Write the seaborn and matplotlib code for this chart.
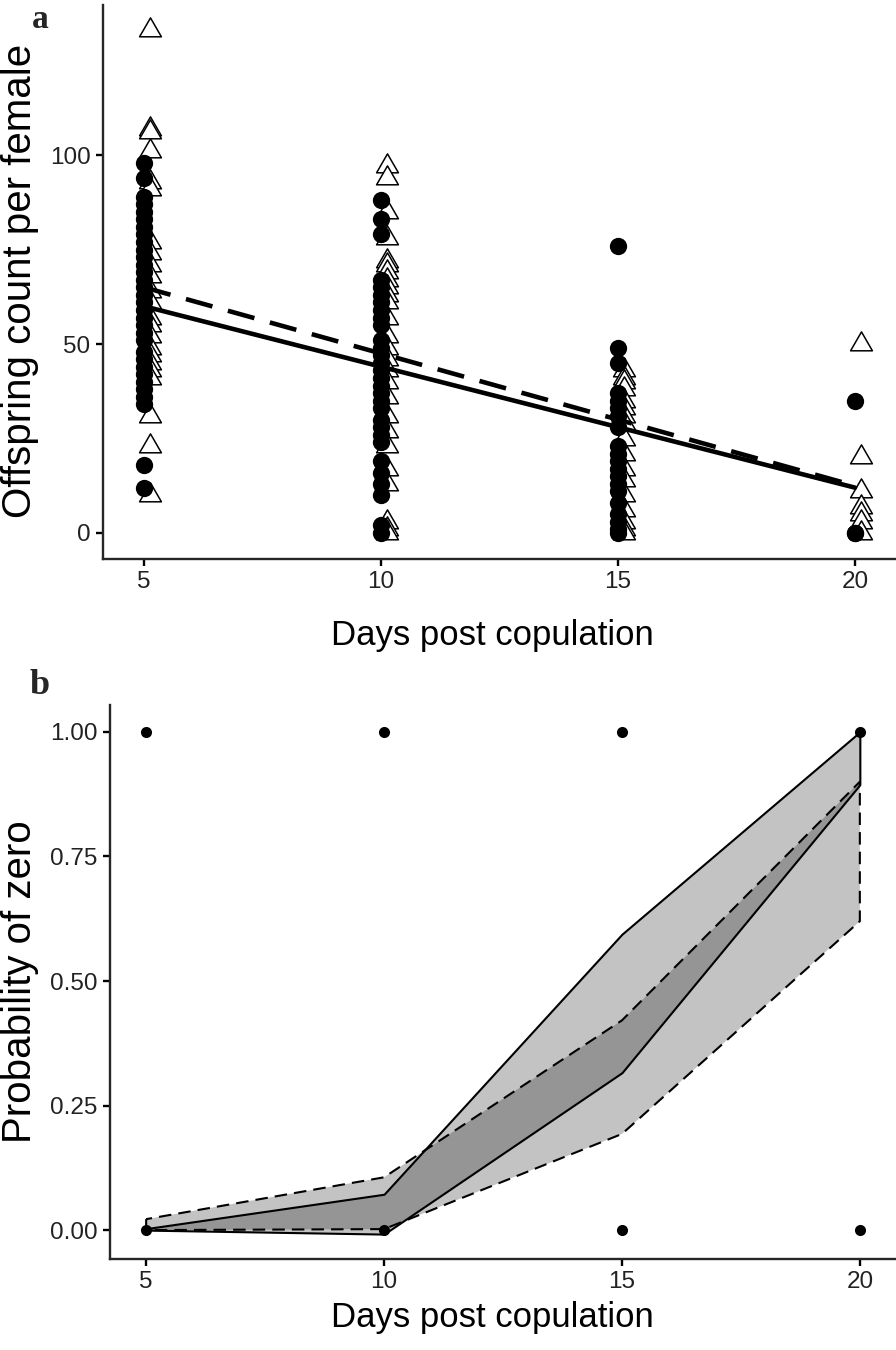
import numpy as np
import pandas as pd
import seaborn as sns
import matplotlib
matplotlib.use("Agg")
import matplotlib.pyplot as plt
from matplotlib.path import Path

# ---------------- Panel a data: offspring count per female ----------------
circle_d5 = [98, 94, 89, 87, 85, 83, 81, 79, 77, 75, 73, 71, 69, 67, 65, 63, 61,
             59, 57, 55, 53, 51, 48, 46, 44, 42, 40, 38, 36, 34, 18, 12]
circle_d10 = [88, 83, 79, 67, 65, 63, 61, 59, 57, 55, 51, 49, 47, 45, 43, 41, 39,
              37, 35, 33, 30, 28, 26, 24, 19, 16, 13, 10, 2, 0]
circle_d15 = [76, 49, 45, 37, 35, 33, 31, 28, 23, 21, 19, 17, 15, 13, 11, 8, 5, 3, 1, 0]
circle_d20 = [35, 0, 0]

tri_d5 = [133, 107, 106, 101, 93, 91, 77, 74, 71, 68, 64, 61, 57, 55, 52, 49, 47,
          45, 43, 41, 31, 23, 10]
tri_d10 = [97, 94, 85, 78, 72, 71, 69, 67, 65, 63, 61, 57, 52, 49, 46, 43, 40, 36,
           31, 27, 23, 17, 13, 3, 1, 0]
tri_d15 = [43, 41, 40, 38, 35, 33, 31, 29, 25, 21, 17, 14, 10, 6, 3, 1, 0]
tri_d20 = [50, 20, 11, 7, 5, 3, 0]

day_levels = [5, 10, 15, 20]

fit_days = [5, 20]
fit_solid = [60, 12]
fit_dashed = [65, 12.5]

# ---------------- Panel b data: probability of zero ----------------
prob_days = [5, 10, 15, 20]
solid_lo = [0.0, -0.008, 0.316, 0.894]
solid_hi = [0.003, 0.072, 0.594, 1.0]
dashed_lo = [0.0, 0.002, 0.193, 0.62]
dashed_hi = [0.022, 0.106, 0.421, 0.90]
obs_days = [5, 10, 15, 20, 5, 10, 15, 20]
obs_zero = [1, 1, 1, 1, 0, 0, 0, 0]

# ---------------- build frames ----------------
rows = []
for d, vals in zip(day_levels, [circle_d5, circle_d10, circle_d15, circle_d20]):
    rows += [("A", d, v) for v in vals]
for d, vals in zip(day_levels, [tri_d5, tri_d10, tri_d15, tri_d20]):
    rows += [("B", d, v) for v in vals]
df = pd.DataFrame(rows, columns=["group", "day", "count"])
dodge = {"A": 0.0, "B": 0.13}
df["xpos"] = df["day"] + df["group"].map(dodge)

fit_df = pd.DataFrame({"day": fit_days * 2,
                       "count": fit_solid + fit_dashed,
                       "fit": ["A"] * 2 + ["B"] * 2})
obs_df = pd.DataFrame({"day": obs_days, "zero": obs_zero})

# ---------------- style ----------------
sns.set_theme(style="ticks")
plt.rcParams["font.family"] = ["Liberation Sans", "DejaVu Sans"]
plt.rcParams["axes.linewidth"] = 1.7
plt.rcParams["xtick.major.width"] = 1.7
plt.rcParams["ytick.major.width"] = 1.7
plt.rcParams["xtick.major.size"] = 5
plt.rcParams["ytick.major.size"] = 5
tick_fs = 17.5
xtitle_fs = 25
ytitle_fs = 29
tick_col = "#222222"

W, H = 896, 1350
fig = plt.figure(figsize=(W / 100, H / 100), dpi=100)
ax1 = fig.add_axes([103 / W, 1 - 559 / H, (W - 103) / W, (559 - 5) / H])
ax2 = fig.add_axes([110 / W, 1 - 1259 / H, (W - 110) / W, (1259 - 705) / H])

tri_marker = Path([(0, 1), (-0.866, -0.5), (0.866, -0.5), (0, 1)],
                  [Path.MOVETO, Path.LINETO, Path.LINETO, Path.CLOSEPOLY])

# ---- panel a ----
sns.scatterplot(data=df[df.group == "B"], x="xpos", y="count", ax=ax1,
                marker=tri_marker, s=330, facecolor="white", edgecolor="black",
                linewidth=1.1, legend=False, zorder=2)
sns.scatterplot(data=df[df.group == "A"], x="xpos", y="count", ax=ax1,
                marker="o", s=155, color="black", linewidth=0, legend=False, zorder=3)
sns.lineplot(data=fit_df[fit_df.fit == "A"], x="day", y="count", ax=ax1,
             color="black", lw=3.3, zorder=4)
sns.lineplot(data=fit_df[fit_df.fit == "B"], x="day", y="count", ax=ax1,
             color="black", lw=3.3, zorder=4)
ax1.lines[-1].set_dashes((6, 3.5))

ax1.set_xlim(4.135, 20.865)
ax1.set_ylim(-6.88, 139.7)
ax1.set_xticks(day_levels)
ax1.set_yticks([0, 50, 100])
ax1.set_xlabel("Days post copulation", fontsize=xtitle_fs, color="black")
ax1.set_ylabel("Offspring count per female", fontsize=ytitle_fs, color="black")
ax1.xaxis.set_label_coords((492 - 103) / (W - 103), -(636 - 559) / (559 - 5))
ax1.xaxis.label.set_va("center")
ax1.yaxis.set_label_coords(-(103 - 20) / (W - 103), (559 - 281) / (559 - 5))
ax1.yaxis.label.set_va("center")

# ---- panel b ----
ax2.fill_between(prob_days, dashed_lo, dashed_hi, facecolor=(0, 0, 0, 0.235),
                 edgecolor="black", linewidth=1.5, linestyle=(0, (6, 3.4)), zorder=2)
ax2.fill_between(prob_days, solid_lo, solid_hi, facecolor=(0, 0, 0, 0.235),
                 edgecolor="black", linewidth=1.5, linestyle="-", zorder=3)
sns.scatterplot(data=obs_df, x="day", y="zero", ax=ax2, color="black", s=64,
                linewidth=0, legend=False, zorder=5)

ax2.set_xlim(4.24, 20.76)
ax2.set_ylim(-0.058, 1.054)
ax2.set_xticks(day_levels)
ax2.set_yticks([0, 0.25, 0.5, 0.75, 1.0])
ax2.set_yticklabels(["0.00", "0.25", "0.50", "0.75", "1.00"])
ax2.set_xlabel("Days post copulation", fontsize=xtitle_fs, color="black")
ax2.set_ylabel("Probability of zero", fontsize=ytitle_fs, color="black")
ax2.xaxis.set_label_coords((492 - 110) / (W - 110), -(1318 - 1259) / (1259 - 705))
ax2.xaxis.label.set_va("center")
ax2.yaxis.set_label_coords(-(110 - 20) / (W - 110), (1259 - 982) / (1259 - 705))
ax2.yaxis.label.set_va("center")

for ax in (ax1, ax2):
    sns.despine(ax=ax)
    ax.tick_params(axis="both", labelsize=tick_fs, labelcolor=tick_col,
                   color="black", pad=4)
    ax.grid(False)

fig.text(40 / W, 1 - 20 / H, "a", fontsize=24, fontweight="bold",
         family="Liberation Serif", ha="center", va="center")
fig.text(40 / W, 1 - 685 / H, "b", fontsize=26, fontweight="bold",
         family="Liberation Serif", ha="center", va="center")

fig.savefig("out.png", dpi=100)
